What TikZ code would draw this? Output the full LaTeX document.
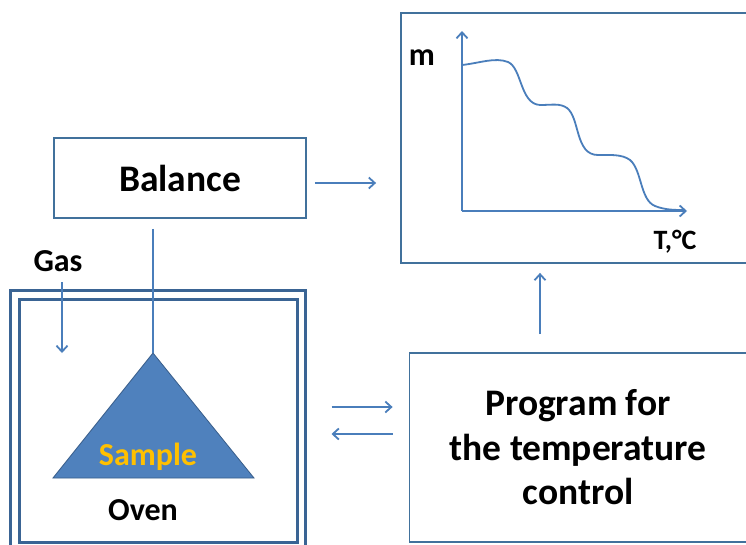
\documentclass[tikz,border=0pt]{standalone}
\usepackage{fontspec}
\setmainfont{Carlito}
\usetikzlibrary{positioning,arrows.meta}
\definecolor{frame}   {HTML}{41719C}
\definecolor{ovenline}{HTML}{3A6494}
\definecolor{wire}    {HTML}{4A7EBB}
\definecolor{pan}     {HTML}{4F81BD}
\definecolor{panedge} {HTML}{385D8A}
\definecolor{gold}    {HTML}{FFC000}
\tikzset{
  % --- nodes
  box/.style   = {draw=frame, line width=1.8pt, fill=white, inner sep=0pt, align=center},
  ovenbox/.style = {draw=ovenline, line width=3pt, inner sep=0pt},
  big/.style   = {font=\fontsize{37.5}{44.5}\selectfont\bfseries},
  small/.style = {font=\fontsize{32}{38}\selectfont\bfseries, inner sep=0pt},
  % --- edges
  e/.style     = {-{Straight Barb[length=6pt,width=11pt]}, line width=1.8pt, draw=wire},
  wirel/.style = {line width=1.8pt, draw=wire},
}
\begin{document}
\begin{tikzpicture}[x=1pt, y=-1pt]
  \useasboundingbox (0,0) rectangle (746,544);
  \fill[white] (0,0) rectangle (746,544);
  \clip (0,0) rectangle (746,544);

  \node[box, big, minimum width=252pt, minimum height=80pt] (balance) at (180,178) {Balance};
  \node[box, minimum width=346pt, minimum height=250pt] (chart) at (574,138) {};
  \node[box, big, minimum width=337pt, minimum height=189pt] (prog) at (578,447.5)
       {Program for\\the temperature\\control};
  \node[ovenbox, minimum width=295pt, minimum height=260pt] (ovenout) at (157.5,420) {};
  \node[ovenbox, minimum width=278pt, minimum height=243pt] (ovenin) at (158,420.5) {};

  % pan with the sample
  \coordinate (apex) at (153,353);
  \filldraw[fill=pan, draw=panedge, line width=0.8pt] (apex) -- (53,478) -- (254,478) -- cycle;
  \node[small, text=gold] (sample) at (148,457) {Sample};
  \node[small] (oven) at (143,510) {Oven};
  \coordinate (hook) at (apex |- balance.south);
  \draw[wirel] ([yshift=-10pt]hook) -- (apex);

  % gas inlet
  \node[small] (gas) at (58,261) {Gas};
  \draw[e] ([xshift=4pt,yshift=-21pt]gas.center) -- ([xshift=4pt,yshift=-92pt]gas.center);

  % mass curve
  \coordinate (origin) at (462,211);
  \draw[e] (origin) -- (462,31);
  \draw[e] (origin) -- (687,211);
  \node[small] (mlbl) at (422,58) {m};
  \node[small, font=\fontsize{28}{34}\selectfont\bfseries] (tlbl) at (675,242) {T,°C};
  \draw[wirel] (462,65) .. controls (480,63) and (495,57) .. (508,62)
    .. controls (522,68) and (520,104) .. (540,105)
    .. controls (552,105) and (560,103) .. (567,108)
    .. controls (580,118) and (575,155) .. (598,155)
    .. controls (610,155) and (622,154) .. (630,160)
    .. controls (642,170) and (640,200) .. (655,206)
    .. controls (665,210) and (675,210) .. (684,210);

  \draw[e] ([xshift=8pt,yshift=-5pt]balance.east) -- ([xshift=-24pt,yshift=-45pt]chart.west);
  \draw[e] ([xshift=-38pt,yshift=18pt]prog.north) -- ([xshift=-34pt,yshift=-9pt]chart.south);
  \draw[e] ([xshift=25pt,yshift=13pt]ovenout.east) -- ([xshift=-16pt,yshift=40.5pt]prog.west);
  \draw[e] ([xshift=-16pt,yshift=13.5pt]prog.west) -- ([xshift=25pt,yshift=-14pt]ovenout.east);
\end{tikzpicture}
\end{document}
